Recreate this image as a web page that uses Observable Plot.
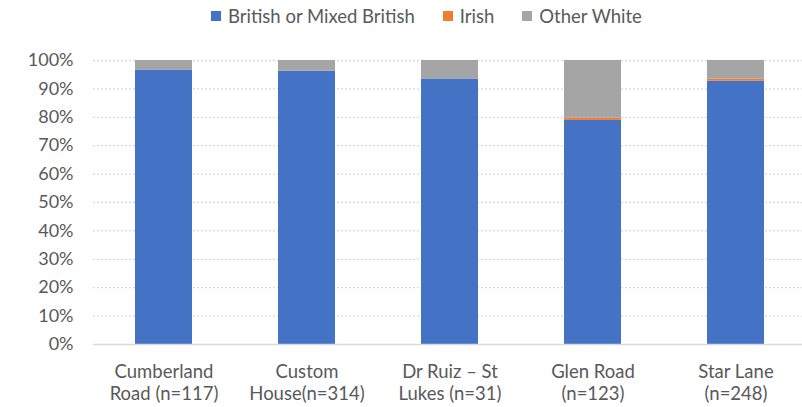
<!DOCTYPE html>
<html><head><meta charset="utf-8">
<script src="https://cdn.jsdelivr.net/npm/d3@7"></script>
<script src="https://cdn.jsdelivr.net/npm/@observablehq/plot@0.6"></script>
<style>
body{margin:0;background:#fff;font-family:Lato,"Noto Sans",sans-serif;}
#legend{height:32px;display:flex;align-items:center;justify-content:flex-start;padding-left:211px;font-size:18.5px;color:#595959;box-sizing:border-box;padding-top:0px}
#legend span.sw{display:inline-block;width:10px;height:10px;margin-right:7px}
#legend .item{display:flex;align-items:center;margin-right:28px}
</style></head>
<body>
<div id="legend"></div>
<div id="chart"></div>
<script>
const sites = ["Cumberland Road (n=117)","Custom House(n=314)","Dr Ruiz – St Lukes (n=31)","Glen Road (n=123)","Star Lane (n=248)"];
const siteLabels = ["Cumberland\nRoad (n=117)","Custom\nHouse(n=314)","Dr Ruiz – St\nLukes (n=31)","Glen Road\n(n=123)","Star Lane\n(n=248)"];
const series = ["British or Mixed British","Irish","Other White"];
const colors = ["#4472C4","#ED7D31","#A5A5A5"];
const british = [96.5, 96.2, 93.5, 78.9, 92.7];
const irish = [0, 0, 0, 0.8, 0.8];
const otherWhite = [3.5, 3.8, 6.5, 20.3, 6.5];
const yTicks = [0,10,20,30,40,50,60,70,80,90,100];

const values = [british, irish, otherWhite];
const data = [];
sites.forEach((s,i)=>series.forEach((g,j)=>data.push({site:s, group:g, value:values[j][i]})));

const leg = document.getElementById("legend");
series.forEach((s,i)=>{
  const d=document.createElement("div");d.className="item";
  d.innerHTML=`<span class="sw" style="background:${colors[i]}"></span>${s}`;
  leg.appendChild(d);
});

const labelMap = new Map(sites.map((s,i)=>[s,siteLabels[i]]));
const chart = Plot.plot({
  width:802, height:375,
  marginLeft:93, marginRight:0, marginTop:28, marginBottom:63,
  style:{fontFamily:"Lato, 'Noto Sans', sans-serif", color:"#595959", background:"#fff"},
  x:{domain:sites, range:[92,807], paddingInner:0.6, paddingOuter:0.3},
  y:{domain:[0,100]},
  color:{domain:series, range:colors},
  marks:[
    Plot.gridY(yTicks.slice(1), {stroke:"#D9D9D9", strokeOpacity:1, strokeDasharray:"2,2", strokeWidth:1.3}),
    Plot.barY(data, {x:"site", y:"value", fill:"group", order:series}),
    Plot.ruleY([0], {stroke:"#D9D9D9", strokeWidth:1.3}),
    Plot.axisY({ticks:yTicks, tickFormat:d=>d+"%", tickSize:0, tickPadding:20, fontSize:18, label:null, fill:"#595959"}),
    Plot.axisX({tickSize:0, tickPadding:18, fontSize:18.5, label:null, tickFormat:d=>labelMap.get(d), lineHeight:1.2, fill:"#595959"})
  ]
});
document.getElementById("chart").appendChild(chart);
</script>
</body></html>
